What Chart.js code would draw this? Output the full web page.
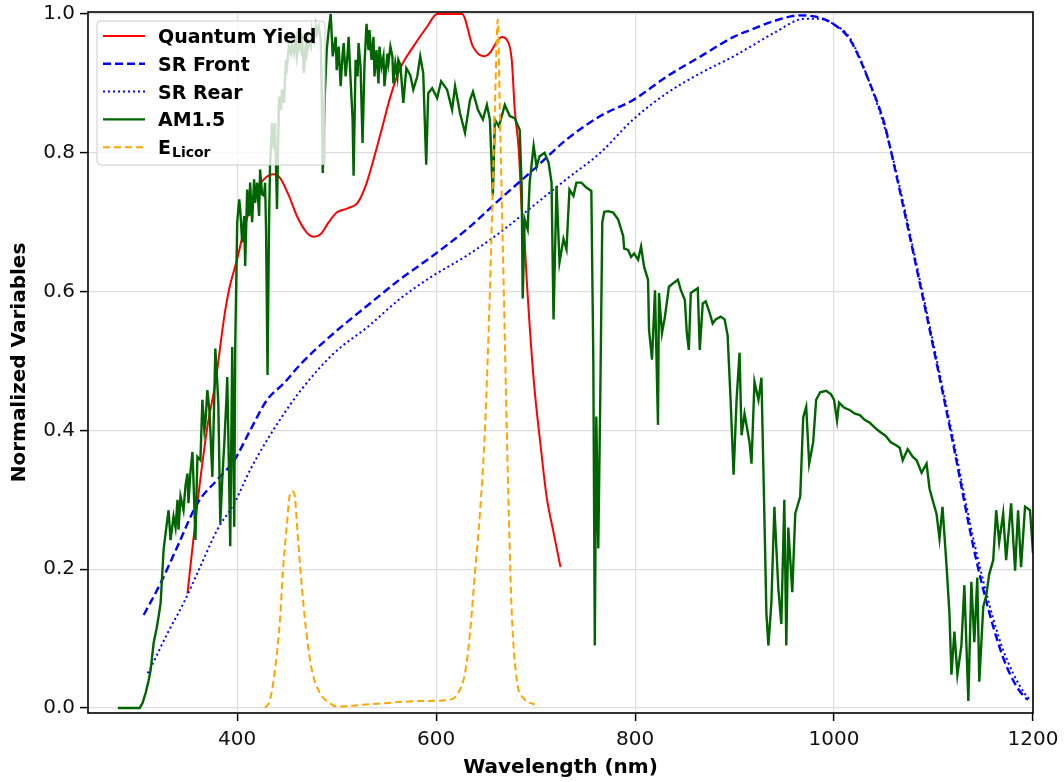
<!DOCTYPE html>
<html>
<head>
<meta charset="utf-8">
<title>Normalized Variables vs Wavelength</title>
<script src="https://cdn.jsdelivr.net/npm/chart.js"></script>
<style>
  html, body { margin: 0; padding: 0; background: #fff; }
  #wrap { width: 1064px; height: 782px; }
</style>
</head>
<body>
<div id="wrap"><canvas id="spectraChart" width="1064" height="782"></canvas></div>
<script>
// tick labels
const xTicks = [400, 600, 800, 1000, 1200];
const yTicks = [0, 0.2, 0.4, 0.6, 0.8, 1.0];

// legend names (last one gets a subscript)
const seriesNames = ["Quantum Yield", "SR Front", "SR Rear", "AM1.5", "E"];
const seriesSubs = ["", "", "", "", "Licor"];

// Quantum yield
const qyWl = [350, 360, 370, 378, 387, 392, 400, 407, 417, 427, 437, 443, 452, 460, 470, 477, 484, 492, 500, 511,
    521, 529, 537, 546, 554, 564, 577, 591, 601, 626, 637, 648, 654, 661, 666, 671, 676, 679, 683, 686,
    689, 691, 698, 705, 711, 718, 725];
const qyVal = [0.165, 0.295, 0.405, 0.468, 0.564, 0.604, 0.647, 0.69, 0.738, 0.762, 0.769, 0.764, 0.738, 0.709, 0.685, 0.679, 0.683, 0.70, 0.714, 0.72,
    0.728, 0.752, 0.79, 0.838, 0.881, 0.922, 0.953, 0.982, 1.0, 1.0, 0.953, 0.939, 0.944, 0.96, 0.967, 0.963, 0.934, 0.862, 0.805, 0.719,
    0.671, 0.618, 0.474, 0.378, 0.305, 0.253, 0.203];

// Spectral response, front side
const srFrontWl = [306, 323, 340, 360, 380, 397, 413, 430, 447, 464, 497, 531, 564, 597, 631, 664, 698, 731, 765, 798,
    832, 866, 899, 916, 940, 965, 985, 1000, 1016, 1036, 1051, 1056, 1088, 1118, 1143, 1166, 1180, 1192, 1195];
const srFrontVal = [0.134, 0.18, 0.233, 0.295, 0.329, 0.357, 0.40, 0.444, 0.468, 0.496, 0.54, 0.58, 0.618, 0.652, 0.69, 0.733, 0.776, 0.819, 0.853, 0.876,
    0.91, 0.939, 0.967, 0.977, 0.99, 0.998, 0.995, 0.985, 0.963, 0.90, 0.84, 0.81, 0.60, 0.393, 0.213, 0.089, 0.04, 0.015, 0.012];

// Spectral response, rear side
const srRearWl = [310, 313, 330, 346, 363, 380, 397, 413, 430, 447, 464, 497, 531, 564, 597, 631, 664, 698, 731, 765,
    798, 832, 866, 899, 916, 940, 970, 985, 1000, 1016, 1036, 1056, 1088, 1118, 1143, 1166, 1180, 1192, 1197];
const srRearVal = [0.05, 0.058, 0.108, 0.151, 0.204, 0.257, 0.295, 0.343, 0.386, 0.424, 0.458, 0.511, 0.549, 0.59, 0.623, 0.652, 0.685, 0.724, 0.762, 0.80,
    0.848, 0.886, 0.915, 0.939, 0.953, 0.973, 0.993, 0.993, 0.985, 0.965, 0.90, 0.81, 0.605, 0.40, 0.225, 0.10, 0.05, 0.02, 0.012];

// AM1.5 solar spectrum
const am15Wl = [280, 302, 305, 308, 311, 313, 316, 319, 321, 323, 326, 328, 331, 333, 336, 338, 340, 341, 343, 346,
    348, 350, 351, 353, 355, 356, 358, 360, 363, 365, 367, 368, 370, 372, 373, 375, 377, 378, 380, 381,
    383, 385, 387, 389, 390, 391, 393, 395, 397, 398, 400, 402, 403, 405, 407, 408, 410, 412, 413, 415,
    417, 418, 420, 422, 423, 425, 427, 428, 429, 430.5, 432, 433, 435, 437, 438, 440, 442, 444, 445, 447,
    449, 450, 452, 454, 455, 457, 459, 460, 462, 464, 465, 467, 469, 470, 472, 474, 475, 477, 479, 480,
    482, 484, 485, 486, 488, 490, 492, 494, 496, 499, 500, 502, 504, 506, 507, 509, 511, 512, 514, 516,
    517, 519, 521, 522, 524, 526, 528, 530, 532, 533, 535, 537, 538, 540, 542, 543, 545, 547, 548, 551,
    552, 554, 556, 557, 559, 561, 562, 564, 567, 570, 574, 577, 581, 584, 587, 590, 592, 596, 601, 605,
    611, 616, 619, 624, 629, 634, 637, 642, 647, 651, 654, 657, 659, 663, 666, 669, 674, 679, 684, 686,
    687, 689, 692, 694, 698, 701, 704, 709, 713, 716, 718, 721, 724, 728, 731, 734, 738, 741, 746, 751,
    756, 758, 759.5, 761, 763, 765, 767, 769, 773, 778, 783, 788, 789, 793, 796, 799, 803, 806, 809, 813,
    814, 817, 820, 823, 824, 827, 830, 834, 840, 843, 846, 850, 852, 854, 856, 860, 863, 865, 868, 871,
    875, 878, 881, 886, 890, 893, 896, 899, 902, 905, 907, 910, 915, 917, 920, 924, 927, 929, 932, 934,
    937, 940, 944, 947, 950, 952, 954, 958, 961, 966, 969, 972, 975, 979, 982, 986, 992, 997, 1000, 1003,
    1005, 1010, 1016, 1021, 1026, 1031, 1036, 1041, 1046, 1052, 1057, 1062, 1066, 1069, 1074, 1079, 1083, 1088, 1093, 1096,
    1099, 1103, 1106, 1109, 1113, 1116, 1118,
    1121, 1124, 1128, 1131, 1135, 1138, 1141, 1144, 1146, 1150, 1153, 1156, 1160, 1163, 1166, 1170, 1173, 1178, 1182, 1185,
    1188, 1192, 1197, 1200];
const am15Val = [0, 0, 0.008, 0.022, 0.04, 0.055, 0.094, 0.115, 0.132, 0.151, 0.228, 0.252, 0.285, 0.242, 0.276, 0.26, 0.30, 0.257, 0.305, 0.285,
    0.32, 0.338, 0.295, 0.34, 0.369, 0.33, 0.242, 0.362, 0.357, 0.444, 0.40, 0.41, 0.458, 0.43, 0.40, 0.333, 0.45, 0.518, 0.468, 0.439,
    0.266, 0.33, 0.381, 0.44, 0.477, 0.40, 0.233, 0.52, 0.261, 0.52, 0.70, 0.733, 0.719, 0.671, 0.709, 0.637, 0.747, 0.709, 0.757, 0.70,
    0.762, 0.728, 0.757, 0.709, 0.776, 0.74, 0.738, 0.757, 0.69, 0.48, 0.70, 0.781, 0.843, 0.805, 0.843, 0.719, 0.881, 0.862, 0.891, 0.872,
    0.934, 0.924, 0.953, 0.943, 0.958, 0.943, 0.962, 0.939, 0.958, 0.948, 0.972, 0.915, 0.958, 0.943, 0.962, 0.953, 0.977, 0.962, 0.982, 0.972,
    0.982, 0.962, 0.886, 0.771, 0.881, 0.948, 0.977, 1.0, 0.939, 0.967, 0.919, 0.953, 0.896, 0.943, 0.958, 0.91, 0.943, 0.967, 0.905, 0.848,
    0.767, 0.934, 0.91, 0.958, 0.924, 0.814, 0.929, 0.986, 0.948, 0.977, 0.934, 0.967, 0.91, 0.948, 0.90, 0.953, 0.924, 0.939, 0.896, 0.943,
    0.929, 0.953, 0.939, 0.90, 0.929, 0.91, 0.934, 0.927, 0.872, 0.922, 0.912, 0.891, 0.91, 0.939, 0.915, 0.783, 0.886, 0.893, 0.879, 0.903,
    0.891, 0.862, 0.896, 0.857, 0.829, 0.876, 0.888, 0.862, 0.848, 0.869, 0.848, 0.738, 0.848, 0.838, 0.853, 0.869, 0.853, 0.85, 0.833, 0.75,
    0.59, 0.704, 0.69, 0.757, 0.81, 0.78, 0.795, 0.80, 0.786, 0.757, 0.56, 0.752, 0.642, 0.676, 0.661, 0.747, 0.738, 0.757, 0.757, 0.75,
    0.745, 0.5, 0.09, 0.42, 0.23, 0.45, 0.70, 0.715, 0.716, 0.714, 0.704, 0.68, 0.662, 0.66, 0.65, 0.655, 0.646, 0.665, 0.636, 0.617,
    0.545, 0.502, 0.602, 0.408, 0.598, 0.54, 0.564, 0.607, 0.614, 0.617, 0.602, 0.588, 0.54, 0.516, 0.598, 0.602, 0.605, 0.516, 0.583, 0.586,
    0.569, 0.554, 0.56, 0.564, 0.56, 0.537, 0.444, 0.336, 0.444, 0.512, 0.393, 0.424, 0.383, 0.352, 0.47, 0.444, 0.476, 0.342, 0.136, 0.09,
    0.152, 0.29, 0.172, 0.121, 0.30, 0.09, 0.26, 0.167, 0.28, 0.305, 0.419, 0.434, 0.352, 0.383, 0.444, 0.455, 0.457, 0.452, 0.444, 0.414,
    0.44, 0.433, 0.429, 0.424, 0.422, 0.415, 0.411, 0.404, 0.398, 0.392, 0.383, 0.379, 0.375, 0.357, 0.373, 0.362, 0.357, 0.339, 0.352, 0.316,
    0.30, 0.28, 0.244, 0.29, 0.207, 0.136, 0.048,
    0.11, 0.048, 0.09, 0.177, 0.01, 0.182, 0.095, 0.188, 0.038, 0.146, 0.162, 0.193, 0.213, 0.285, 0.239, 0.28, 0.213, 0.295, 0.198, 0.285,
    0.203, 0.29, 0.285, 0.223];

// Licor lamp emission
const licorWl = [428, 433, 438, 443, 446, 450, 453, 456, 458, 461, 465, 470, 475, 483, 493, 500, 530, 584, 614, 621,
    629, 634, 639, 644, 649, 654, 659, 662, 664, 668, 671, 673, 676, 681, 688, 699];
const licorVal = [0, 0.012, 0.055, 0.127, 0.198, 0.265, 0.308, 0.312, 0.304, 0.246, 0.174, 0.103, 0.055, 0.022, 0.007, 0.002, 0.005, 0.01, 0.012, 0.019,
    0.05, 0.108, 0.195, 0.28, 0.40, 0.60, 0.862, 0.992, 0.862, 0.60, 0.40, 0.28, 0.137, 0.041, 0.014, 0.005];

function toPoints(xs, ys) {
    return xs.map((x, i) => ({ x: x, y: ys[i] }));
}

const FONT = "'DejaVu Sans', 'Liberation Sans', sans-serif";

const styles = [
    { color: "#ff0000", width: 2, dash: [], smooth: true },
    { color: "#0000ff", width: 2.4, dash: [8, 4], smooth: true },
    { color: "#0000ff", width: 2, dash: [2, 3], smooth: true },
    { color: "#006400", width: 2.4, dash: [], smooth: false },
    { color: "#ffa500", width: 2, dash: [7, 4], smooth: true }
];

const seriesPoints = [
    toPoints(qyWl, qyVal),
    toPoints(srFrontWl, srFrontVal),
    toPoints(srRearWl, srRearVal),
    toPoints(am15Wl, am15Val),
    toPoints(licorWl, licorVal)
];

const datasets = seriesPoints.map((pts, i) => ({
    label: seriesNames[i] + seriesSubs[i],
    data: pts,
    borderColor: styles[i].color,
    borderWidth: styles[i].width,
    borderDash: styles[i].dash,
    pointRadius: 0,
    fill: false,
    cubicInterpolationMode: styles[i].smooth ? "monotone" : "default",
    tension: 0,
    order: 5 - i   // matplotlib draw order: later series on top
}));

// legend box + plot frame, drawn over the lines like matplotlib does
const framePlugin = {
    id: "frameAndLegend",
    afterDatasetsDraw(chart) {
        const ctx = chart.ctx;
        const a = chart.chartArea;
        ctx.save();
        ctx.setLineDash([]);
        ctx.strokeStyle = "#000";
        ctx.lineWidth = 1.6;
        ctx.strokeRect(a.left, a.top, a.right - a.left, a.bottom - a.top);

        // legend
        const bx = 97, by = 21, bw = 228, bh = 144;
        ctx.beginPath();
        ctx.roundRect(bx, by, bw, bh, 4);
        ctx.fillStyle = "rgba(255,255,255,0.8)";
        ctx.fill();
        ctx.strokeStyle = "#cccccc";
        ctx.lineWidth = 1;
        ctx.stroke();

        seriesNames.forEach((name, i) => {
            const cy = 36 + i * 27.8;
            ctx.beginPath();
            ctx.setLineDash(styles[i].dash);
            ctx.strokeStyle = styles[i].color;
            ctx.lineWidth = styles[i].width;
            ctx.moveTo(103, cy);
            ctx.lineTo(145, cy);
            ctx.stroke();
            ctx.setLineDash([]);

            ctx.fillStyle = "#000";
            ctx.textBaseline = "alphabetic";
            ctx.textAlign = "left";
            ctx.font = "bold 19px " + FONT;
            ctx.fillText(name, 158, cy + 7);
            if (seriesSubs[i]) {
                const w = ctx.measureText(name).width;
                ctx.font = "bold 14px " + FONT;
                ctx.fillText(seriesSubs[i], 158 + w + 1, cy + 10);
            }
        });
        ctx.restore();
    }
};

const ctx = document.getElementById("spectraChart").getContext("2d");

new Chart(ctx, {
    type: "line",
    data: { datasets: datasets },
    plugins: [framePlugin],
    options: {
        responsive: false,
        animation: false,
        devicePixelRatio: 1,
        layout: { padding: { top: 12, right: 31, left: 0, bottom: 0 } },
        plugins: {
            legend: { display: false },
            tooltip: { enabled: false }
        },
        scales: {
            x: {
                type: "linear",
                min: 250,
                max: 1200,
                afterBuildTicks: (s) => { s.ticks = xTicks.map(v => ({ value: v })); },
                afterFit: (s) => {
                    s.height = 69;
                    s.paddingLeft = 0;
                    s.paddingRight = 0;
                },
                ticks: {
                    color: "#111",
                    font: { family: FONT, size: 20 },
                    padding: 7,
                    maxRotation: 0,
                    callback: (v) => String(v)
                },
                grid: {
                    color: "#dddddd",
                    lineWidth: 1.2,
                    tickColor: "#000",
                    tickLength: 8,
                    tickWidth: 1.5
                },
                border: { display: false },
                title: {
                    display: true,
                    text: "Wavelength (nm)",
                    color: "#000",
                    font: { family: FONT, size: 20, weight: "bold" },
                    padding: { top: 0, bottom: 2 }
                }
            },
            y: {
                min: -0.0072,
                max: 1.0029,
                afterBuildTicks: (s) => { s.ticks = yTicks.map(v => ({ value: v })); },
                afterFit: (s) => {
                    s.width = 88;
                    s.paddingTop = 0;
                    s.paddingBottom = 0;
                },
                ticks: {
                    color: "#111",
                    font: { family: FONT, size: 20 },
                    padding: 5,
                    callback: (v) => v.toFixed(1)
                },
                grid: {
                    color: "#dddddd",
                    lineWidth: 1.2,
                    tickColor: "#000",
                    tickLength: 8,
                    tickWidth: 1.5
                },
                border: { display: false },
                title: {
                    display: true,
                    text: "Normalized Variables",
                    color: "#000",
                    font: { family: FONT, size: 20, weight: "bold" },
                    padding: { top: 8, bottom: 0 }
                }
            }
        }
    }
});
</script>
</body>
</html>
